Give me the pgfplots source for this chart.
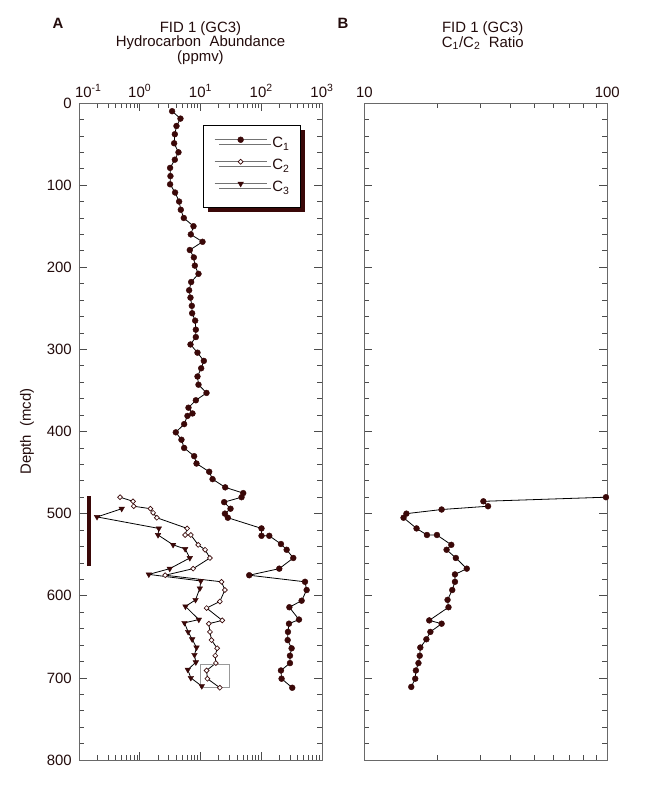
\documentclass[border=0pt]{standalone}
\usepackage{fontspec}
\setmainfont{Liberation Sans}
\usepackage{pgfplots}
\pgfplotsset{compat=1.18}
\usetikzlibrary{shadows}

\definecolor{mk}{RGB}{58,8,8}
\definecolor{txt}{RGB}{35,12,12}
\definecolor{frame}{RGB}{105,105,105}

\newcommand{\tf}{\fontsize{11.2}{13}\selectfont}

\pgfplotsset{
  core/.style={
    scale only axis, width=182.25pt, height=492.75pt,
    anchor=south west,
    y dir=reverse, ymin=0, ymax=800,
    ytick={0,100,...,800}, minor y tick num=4,
    tick align=inside, xtick pos=both, ytick pos=both,
    xticklabel pos=upper, yticklabel pos=left,
    major tick length=6pt, minor tick length=3.75pt,
    axis line style={frame, line width=0.6pt},
    tick style={black!70, line width=0.5pt},
    ticklabel style={font=\tf, text=txt},
    xticklabel style={yshift=0.8pt},
    yticklabel style={xshift=-1.9pt, /pgf/number format/assume math mode=true},
    clip=false,
  },
  cone/.style={black, line width=0.6pt, mark=*, mark size=2.2pt,
    mark options={draw=mk, fill=mk, line width=0.3pt}},
  ctwo/.style={black, line width=0.6pt, mark=square*, mark size=1.3pt,
    mark options={draw=mk, fill=white, line width=0.5pt, rotate=45}},
  cthree/.style={black, line width=0.6pt, mark=triangle*, mark size=2.4pt,
    mark options={draw=mk, fill=mk, line width=0.3pt, rotate=180}},
}

\begin{document}
\begin{tikzpicture}
\useasboundingbox (-59.25pt,-24.75pt) rectangle (423.75pt,570pt);

% panel A: hydrocarbon abundance
\begin{axis}[core, name=A, at={(0pt,0pt)},
  xmode=log, xmin=0.1, xmax=1000,
  xtick={0.1,1,10,100,1000},
  xticklabels={\hspace*{14pt}10\textsuperscript{-1},10\textsuperscript{0},10\textsuperscript{1},10\textsuperscript{2},10\textsuperscript{3}},
  minor xtick={0.2,0.3,0.4,0.5,0.6,0.7,0.8,0.9,2,3,4,5,6,7,8,9,20,30,40,50,60,70,80,90,200,300,400,500,600,700,800,900},
  ylabel={Depth~~(mcd)},
  ylabel style={at={(axis description cs:-0.214,0.5)}, anchor=center, font=\tf, text=txt},
  legend image code/.code={\draw[#1, mark repeat=2, mark phase=2] plot coordinates {(0pt,3.6pt)(19.5pt,3.6pt)(39pt,3.6pt)};},
  legend image post style={draw=black!55, line width=0.4pt},
  legend style={at={(0.510,0.9665)}, anchor=north west,
    draw=black, line width=0.7pt, fill=white,
    drop shadow={shadow xshift=3.3pt, shadow yshift=-3.3pt, opacity=1, fill=mk},
    font=\tf, text=txt,
    nodes={inner sep=0pt, text height=8pt, text depth=3pt},
    inner xsep=8.25pt, inner ysep=8.5pt, row sep=5.5pt, column sep=4pt},
  legend cell align=left,
]
\addplot[cone] coordinates {
 (3.41,10)(4.68,19)(4.02,28)(3.78,38)(3.68,49)(4.34,60)(3.78,69)(3.16,79)(3.2,89)(3.16,99)
 (3.82,109)(4.45,120)(4.74,130)(5.31,140)(7.67,150)(6.93,160)(10.8,169)(6.67,179)(7.77,188)(8.07,198)
 (9.27,208)(7.02,218)(6.50,228)(6.84,237)(7.2,247)(7.29,256)(8.17,265)(8.38,276)(8.38,285)(6.84,294)
 (8.92,304)(11.35,314)(10.26,323)(8.92,333)(9.27,343)(12.56,353)(8.38,362)(6.34,371)(7.38,378)(6.1,381)
 (5.38,391)(3.92,401)(4.86,410)(5.38,420)(7.86,430)(8.6,439)(13.9,449)(15.8,458)(25.5,468)(50.5,475)
 (47.4,480)(24.5,486)(31.2,494)(25.2,500)(28.2,505)(101,518)(101,527)(135.5,527)(211,537)(262,544)
 (337,554)(198,567)(63.4,575)(525,583)(559,593)(462,606)(290,614)(418,629)(286,634)(275,644)
 (272,654)(316,664)(297,673)(297,682)(211,691)(216,701)(324,712)
};
\addplot[ctwo] coordinates {
 (0.474,480)(0.776,485)(0.796,491)(1.50,494)(1.66,499)(1.91,505)(6.03,518)(5.59,526)(6.93,526)(9.16,538)
 (11.9,544)(14.3,554)(7.57,567)(2.62,575)(22.2,583)(25.2,593)(20.8,607)(12.6,615)(22.8,630)(13.7,634)
 (14.3,644)(15.2,654)(18.8,664)(17.5,673)(17.9,682)(12.6,691)(13.0,701)(20.8,712)
};
\addplot[cthree] coordinates {
 (0.505,494)(0.198,504)(2.06,518)(2.0,526)(3.54,538)(5.59,543)(6.67,554)(3.12,567)(1.41,574)(10.1,582)
 (9.75,591)(8.28,605)(5.66,613)(9.39,629)(5.45,633)(6.26,644)(7.29,653)(8.6,663)(7.96,672)(8.38,681)
 (6.18,690)(6.93,700)(10.5,710)
};
\legend{C\textsubscript{1},C\textsubscript{2},C\textsubscript{3}}
% depth bar and small box
\addplot[mk, line width=3.4pt, no markers, forget plot] coordinates {(0.145,479)(0.145,564)};
\addplot[black!40, line width=0.5pt, no markers, forget plot] coordinates {(10,683)(29.8,683)(29.8,711)(10,711)(10,683)};
\end{axis}

% panel B: C1/C2 ratio
\begin{axis}[core, name=B, at={(214pt,0pt)},
  xmode=log, xmin=10, xmax=100,
  xtick={10,100}, xticklabels={10,100},
  minor xtick={20,30,40,50,60,70,80,90},
  yticklabels={},
]
\addplot[cone] coordinates {
 (98.7,480)(30.9,485)(32.3,491)(20.8,495)(14.9,500)(14.5,505)(16.4,518)(18.1,526)(19.9,526)(22.8,538)
 (21.8,544)(23.8,554)(26.4,567)(23.6,574)(23.6,583)(23.0,593)(22.0,605)(22.2,614)(18.5,630)(20.8,634)
 (18.7,644)(18.0,653)(17.0,663)(16.9,673)(16.7,682)(16.3,691)(16.2,701)(15.6,711)
};
\end{axis}

% titles
\node[anchor=base, font=\bfseries\tf, text=txt] at (-15.75pt,548.25pt) {A};
\node[anchor=base, font=\tf, text=txt] at (91.1pt,545.5pt) {FID 1 (GC3)};
\node[anchor=base, font=\tf, text=txt] at (91.1pt,535pt) {Hydrocarbon~~Abundance};
\node[anchor=base, font=\tf, text=txt] at (91.1pt,523.7pt) {(ppmv)};
\node[anchor=base, font=\bfseries\tf, text=txt] at (198pt,548.25pt) {B};
\node[anchor=base, font=\tf, text=txt] at (302.8pt,545.8pt) {FID 1 (GC3)};
\node[anchor=base, font=\tf, text=txt] at (302.8pt,534.5pt) {C\textsubscript{1}/C\textsubscript{2}~~Ratio};
\end{tikzpicture}
\end{document}
